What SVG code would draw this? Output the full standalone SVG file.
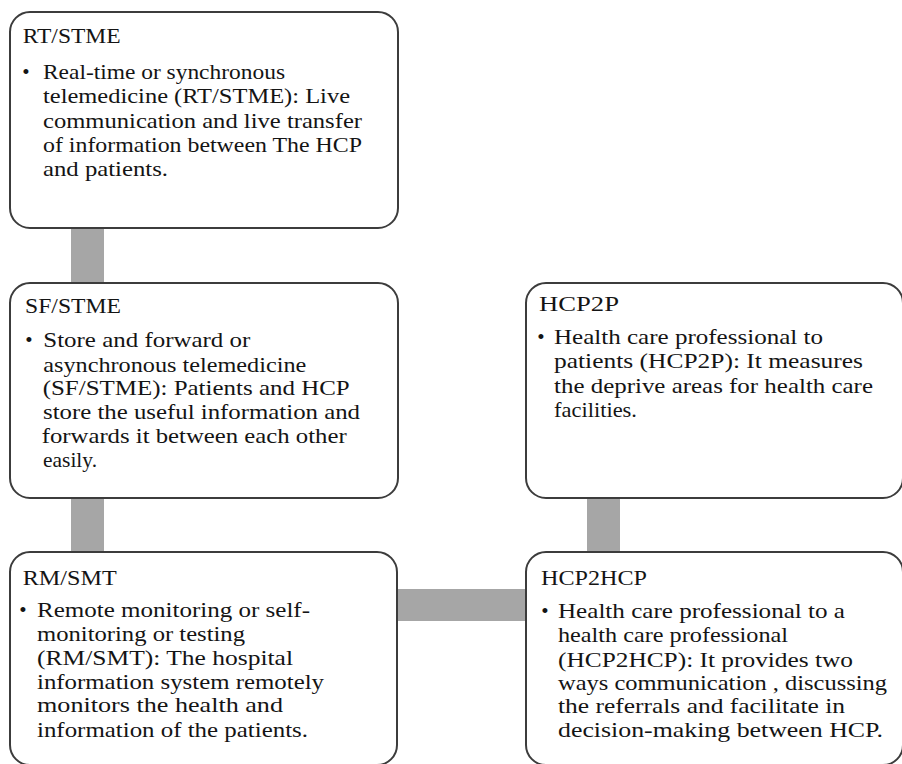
<svg xmlns="http://www.w3.org/2000/svg" width="902" height="764" viewBox="0 0 902 764">
  <style>
    .box { fill: #ffffff; stroke: #3c3c3c; stroke-width: 2; }
    .link { fill: #a6a6a6; }
    text { font-family: "Liberation Serif", "Times New Roman", serif; fill: #141414; }
    .title { font-size: 22px; }
    .body { font-size: 21px; }
    .dot { font-size: 21px; text-anchor: middle; }
  </style>
  <rect width="902" height="764" fill="#ffffff"/>

  <!-- connectors sit behind the boxes -->
  <g id="connectors">
    <rect class="link" x="71" y="226" width="33" height="59"/>
    <rect class="link" x="71" y="496" width="33" height="58"/>
    <rect class="link" x="587" y="496" width="33" height="58"/>
    <rect class="link" x="395" y="589" width="133" height="32"/>
  </g>

  <g id="rt-stme">
    <rect class="box" x="10" y="12" width="388" height="216" rx="20" ry="20"/>
    <text class="title" x="22.7" y="43" textLength="98" lengthAdjust="spacingAndGlyphs">RT/STME</text>
    <text class="dot" x="26" y="79">•</text>
    <text class="body" x="43" y="79" textLength="242" lengthAdjust="spacingAndGlyphs">Real-time or synchronous</text>
    <text class="body" x="43" y="103" textLength="307" lengthAdjust="spacingAndGlyphs">telemedicine (RT/STME): Live</text>
    <text class="body" x="43" y="128" textLength="319" lengthAdjust="spacingAndGlyphs">communication and live transfer</text>
    <text class="body" x="43" y="152" textLength="319" lengthAdjust="spacingAndGlyphs">of information between The HCP</text>
    <text class="body" x="43" y="176" textLength="125" lengthAdjust="spacingAndGlyphs">and patients.</text>
  </g>

  <g id="sf-stme">
    <rect class="box" x="10" y="283" width="388" height="215" rx="20" ry="20"/>
    <text class="title" x="25" y="313" textLength="96" lengthAdjust="spacingAndGlyphs">SF/STME</text>
    <text class="dot" x="29" y="347">•</text>
    <text class="body" x="43.3" y="347" textLength="207" lengthAdjust="spacingAndGlyphs">Store and forward or</text>
    <text class="body" x="43.3" y="371.5" textLength="263" lengthAdjust="spacingAndGlyphs">asynchronous telemedicine</text>
    <text class="body" x="42.7" y="395" textLength="307" lengthAdjust="spacingAndGlyphs">(SF/STME): Patients and HCP</text>
    <text class="body" x="43" y="419" textLength="317" lengthAdjust="spacingAndGlyphs">store the useful information and</text>
    <text class="body" x="41.7" y="443" textLength="305" lengthAdjust="spacingAndGlyphs">forwards it between each other</text>
    <text class="body" x="43" y="467" textLength="54" lengthAdjust="spacingAndGlyphs">easily.</text>
  </g>

  <g id="hcp2p">
    <rect class="box" x="526" y="283" width="377" height="215" rx="20" ry="20"/>
    <text class="title" x="539" y="310.5" textLength="80" lengthAdjust="spacingAndGlyphs">HCP2P</text>
    <text class="dot" x="541" y="344">•</text>
    <text class="body" x="554" y="344" textLength="269" lengthAdjust="spacingAndGlyphs">Health care professional to</text>
    <text class="body" x="554" y="368" textLength="309" lengthAdjust="spacingAndGlyphs">patients (HCP2P): It measures</text>
    <text class="body" x="554" y="393" textLength="319" lengthAdjust="spacingAndGlyphs">the deprive areas for health care</text>
    <text class="body" x="554" y="417" textLength="83" lengthAdjust="spacingAndGlyphs">facilities.</text>
  </g>

  <g id="rm-smt">
    <rect class="box" x="10" y="552" width="387" height="213" rx="20" ry="20"/>
    <text class="title" x="22.7" y="585" textLength="94" lengthAdjust="spacingAndGlyphs">RM/SMT</text>
    <text class="dot" x="23" y="617">•</text>
    <text class="body" x="37" y="617" textLength="273" lengthAdjust="spacingAndGlyphs">Remote monitoring or self-</text>
    <text class="body" x="37" y="641" textLength="208" lengthAdjust="spacingAndGlyphs">monitoring or testing</text>
    <text class="body" x="37" y="665" textLength="256" lengthAdjust="spacingAndGlyphs">(RM/SMT): The hospital</text>
    <text class="body" x="37" y="689" textLength="287" lengthAdjust="spacingAndGlyphs">information system remotely</text>
    <text class="body" x="37" y="712" textLength="246" lengthAdjust="spacingAndGlyphs">monitors the health and</text>
    <text class="body" x="37" y="737" textLength="271" lengthAdjust="spacingAndGlyphs">information of the patients.</text>
  </g>

  <g id="hcp2hcp">
    <rect class="box" x="526" y="552" width="377" height="213" rx="20" ry="20"/>
    <text class="title" x="541" y="585" textLength="106" lengthAdjust="spacingAndGlyphs">HCP2HCP</text>
    <text class="dot" x="545" y="618">•</text>
    <text class="body" x="558" y="618" textLength="287" lengthAdjust="spacingAndGlyphs">Health care professional to a</text>
    <text class="body" x="558" y="642" textLength="230" lengthAdjust="spacingAndGlyphs">health care professional</text>
    <text class="body" x="558" y="667" textLength="295" lengthAdjust="spacingAndGlyphs">(HCP2HCP): It provides two</text>
    <text class="body" x="558" y="690" textLength="329" lengthAdjust="spacingAndGlyphs">ways communication , discussing</text>
    <text class="body" x="558" y="713" textLength="287" lengthAdjust="spacingAndGlyphs">the referrals and facilitate in</text>
    <text class="body" x="558" y="737" textLength="325" lengthAdjust="spacingAndGlyphs">decision-making between HCP.</text>
  </g>
</svg>
